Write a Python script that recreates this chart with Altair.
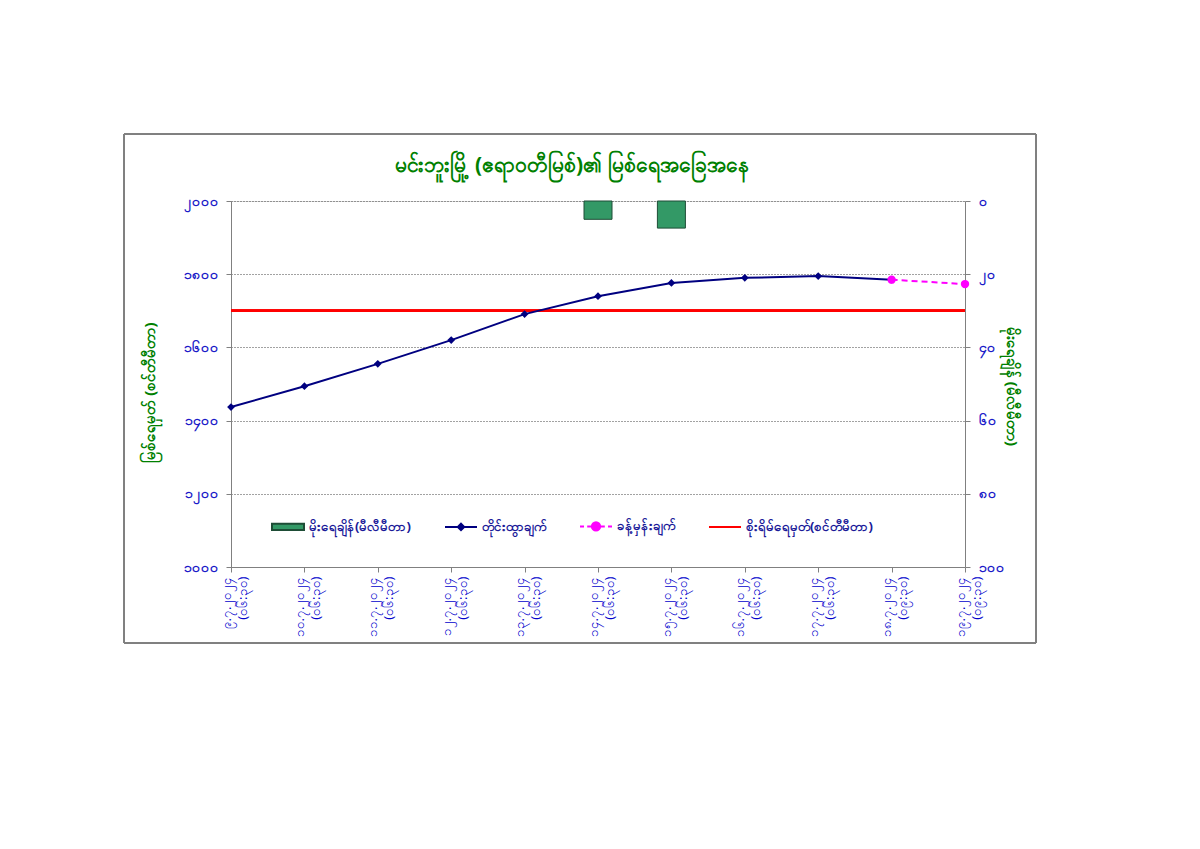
import altair as alt
import pandas as pd

# ---------------- data ----------------
dates = ["၉.၇.၂၀၂၄", "၁၀.၇.၂၀၂၄", "၁၁.၇.၂၀၂၄", "၁၂.၇.၂၀၂၄", "၁၃.၇.၂၀၂၄", "၁၄.၇.၂၀၂၄",
         "၁၅.၇.၂၀၂၄", "၁၆.၇.၂၀၂၄", "၁၇.၇.၂၀၂၄", "၁၈.၇.၂၀၂၄", "၁၉.၇.၂၀၂၄"]
times = ["(၀၆:၃၀)", "(၀၆:၃၀)", "(၀၆:၃၀)", "(၀၆:၃၀)", "(၀၆:၃၀)", "(၀၆:၃၀)",
         "(၀၆:၃၀)", "(၀၆:၃၀)", "(၀၆:၃၀)", "(၀၉:၃၀)", "(၀၉:၃၀)"]
level_measured = [1437, 1494, 1555, 1620, 1691, 1740, 1776, 1790, 1795, 1785, None]
level_forecast = [None, None, None, None, None, None, None, None, None, 1785, 1773]
rain_mm = [0, 0, 0, 0, 0, 5, 7.4, 0, 0, 0, 0]
warning_level = 1700

left_ticks = [1000, 1200, 1400, 1600, 1800, 2000]
left_tick_labels = ["၁၀၀၀", "၁၂၀၀", "၁၄၀၀", "၁၆၀၀", "၁၈၀၀", "၂၀၀၀"]
right_ticks = [0, 20, 40, 60, 80, 100]
right_tick_labels = ["၀", "၂၀", "၄၀", "၆၀", "၈၀", "၁၀၀"]

series_names = ["မိုးရေချိန်(မီလီမီတာ)", "တိုင်းထွာချက်", "ခန့်မှန်းချက်", "စိုးရိမ်ရေမှတ်(စင်တီမီတာ)"]

title_text = "မင်းဘူးမြို့ (ဧရာဝတီမြစ်)၏ မြစ်ရေအခြေအနေ"
left_title = "မြစ်ရေမှတ် (စင်တီမီတာ)"
right_title = "မိုးရေချိန် (မီလီမီတာ)"

# ---------------- styles ----------------
NAVY = "#000080"
MAGENTA = "#FF00FF"
RED = "#FF0000"
BAR_FILL = "#339966"
BAR_STROKE = "#1E4D36"
GREEN = "#008000"
BLUE = "#1A1AC8"
GRAY = "#808080"
FONT = "Noto Sans"

x_labels = [d + "|" + t for d, t in zip(dates, times)]
df = pd.DataFrame({
    "label": x_labels,
    "measured": level_measured,
    "forecast": level_forecast,
    "rain": rain_mm,
})


def label_expr(vals, labs):
    parts = [f"datum.value == {v} ? '{l}'" for v, l in zip(vals, labs)]
    return " : ".join(parts) + " : datum.label"


x_enc = alt.X(
    "label:N", sort=x_labels,
    scale=alt.Scale(type="point", padding=0),
    axis=alt.Axis(
        title=None, labelAngle=270, labelExpr="split(datum.label, '|')",
        labelColor="#0000CC", labelFontSize=13, labelFont=FONT, labelLineHeight=16,
        labelPadding=4, labelOffset=-5, tickColor=GRAY, tickSize=5, domainColor=GRAY,
        labelBaseline="middle", labelAlign="right",
    ),
)

level_scale = alt.Scale(domain=[1000, 2000], nice=False, zero=False)
level_axis = alt.Axis(
    orient="left", values=left_ticks, labelExpr=label_expr(left_ticks, left_tick_labels),
    title=left_title, titleColor=GREEN, titleFontSize=15, titleFont=FONT, titleFontWeight="bold",
    titleX=-82, titleY=191, titleAngle=270, titleAlign="center", titleBaseline="middle",
    labelColor=BLUE, labelFontSize=14, labelFont=FONT, labelFontWeight="bold",
    labelPadding=8, tickColor=GRAY, tickSize=5, domainColor=GRAY,
    grid=True, gridColor="#444444", gridDash=[1, 2], gridWidth=1,
)
rain_axis = alt.Axis(
    orient="right", values=right_ticks, labelExpr=label_expr(right_ticks, right_tick_labels),
    title=right_title, titleColor=GREEN, titleFontSize=15, titleFont=FONT, titleFontWeight="bold",
    titleX=46, titleY=185, titleAngle=90, titleAlign="center", titleBaseline="middle",
    labelColor=BLUE, labelFontSize=14, labelFont=FONT,
    labelFontWeight="bold", labelPadding=8, tickColor=GRAY, tickSize=5, domainColor=GRAY, grid=False,
)

base = alt.Chart(df)

bars = base.transform_filter("datum.rain > 0").mark_bar(
    size=28, color=BAR_FILL, stroke=BAR_STROKE, strokeWidth=1
).encode(
    x=x_enc,
    y=alt.Y("rain:Q", scale=alt.Scale(domain=[0, 100], reverse=True, nice=False), axis=rain_axis),
)

measured_line = base.transform_filter("isValid(datum.measured)").mark_line(
    color=NAVY, strokeWidth=2
).encode(x=x_enc, y=alt.Y("measured:Q", scale=level_scale, axis=level_axis))

measured_pts = base.transform_filter("isValid(datum.measured)").mark_point(
    shape="diamond", filled=True, color=NAVY, size=60, opacity=1
).encode(x=x_enc, y=alt.Y("measured:Q", scale=level_scale))

forecast_line = base.transform_filter("isValid(datum.forecast)").mark_line(
    color=MAGENTA, strokeWidth=2, strokeDash=[6, 4]
).encode(x=x_enc, y=alt.Y("forecast:Q", scale=level_scale))

forecast_pts = base.transform_filter("isValid(datum.forecast)").mark_point(
    shape="circle", filled=True, color=MAGENTA, size=70, opacity=1
).encode(x=x_enc, y=alt.Y("forecast:Q", scale=level_scale))

warning = base.mark_rule(color=RED, strokeWidth=2).encode(
    y=alt.datum(warning_level, scale=level_scale)
)

# legend (symbols built from the scales, no data drawn)
symbol_paths = [
    "M-1,-0.2H1V0.2H-1Z",
    "M-1,0H1M0,-0.2L0.2,0L0,0.2L-0.2,0Z",
    "M-1,0H-0.75M-0.55,0H-0.3M0.3,0H0.55M0.75,0H1M-0.26,0A0.26,0.26 0 1,0 0.26,0A0.26,0.26 0 1,0 -0.26,0Z",
    "M-1,0H1",
]
fill_colors = [BAR_FILL, NAVY, MAGENTA, RED]
stroke_colors = [BAR_STROKE, NAVY, MAGENTA, RED]
legend = alt.Legend(
    title=None, orient="none", legendX=40, legendY=308, direction="horizontal",
    symbolSize=1024, symbolStrokeWidth=2, labelFont=FONT, labelFontSize=13,
    labelFontWeight="bold", labelColor="#1A1A99", columnPadding=30, labelOffset=4,
    labelLimit=300,
)
legend_df = pd.DataFrame({"series": series_names})
legend_layer = alt.Chart(legend_df).transform_filter("false").mark_point(
    filled=True, opacity=1
).encode(
    fill=alt.Fill("series:N", scale=alt.Scale(domain=series_names, range=fill_colors), legend=legend),
    stroke=alt.Stroke("series:N", scale=alt.Scale(domain=series_names, range=stroke_colors), legend=legend),
    shape=alt.Shape("series:N", scale=alt.Scale(domain=series_names, range=symbol_paths), legend=legend),
)

frame = base.mark_rect(fill=None, stroke=GRAY, strokeWidth=1).encode(
    x=alt.value(-107), x2=alt.value(805), y=alt.value(-67), y2=alt.value(442)
)

level_layer = alt.layer(warning, measured_line, measured_pts, forecast_line, forecast_pts, legend_layer)

chart = alt.layer(frame, bars, level_layer).resolve_scale(y="independent").properties(
    width=734, height=366,
    padding={"left": 115, "top": 125, "right": 10, "bottom": 10},
    title=alt.TitleParams(title_text, color=GREEN, fontSize=21, font=FONT, fontWeight="bold",
                          offset=-42, dx=-26, anchor="middle", frame="group"),
).configure_view(fill="#CCFFFF", stroke=GRAY).configure(background="white")

chart.save("out.html", embed_options={"renderer": "svg", "actions": False})
